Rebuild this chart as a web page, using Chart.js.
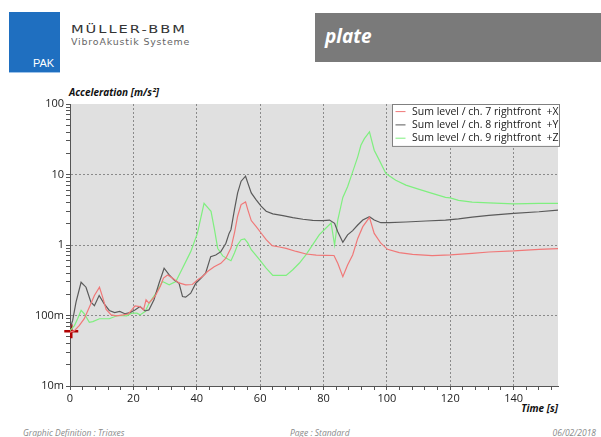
<!DOCTYPE html>
<html>
<head>
<meta charset="utf-8">
<script src="https://cdn.jsdelivr.net/npm/chart.js@4.4.0/dist/chart.umd.min.js"></script>
<style>
body { margin:0; width:601px; height:437px; background:#fff; position:relative; overflow:hidden; font-family:'Open Sans', sans-serif; }
#pakBox { position:absolute; left:9px; top:12px; width:51px; height:60px; background:#1f6fc0; border-bottom:1px solid #9cc2ea; }
#pakBox span { position:absolute; left:24px; bottom:3px; color:#fff; font:11px 'Liberation Sans Narrow', 'Liberation Sans', sans-serif; }
#brand { position:absolute; left:71px; top:23px; font:11px 'DejaVu Sans', sans-serif; letter-spacing:1.5px; color:#333; transform:scaleX(1.33); transform-origin:left top; }
#brandSub { position:absolute; left:71px; top:38px; font:8px 'DejaVu Sans', sans-serif; color:#666; letter-spacing:0.7px; transform:scaleX(1.18); transform-origin:left top; }
#banner { position:absolute; left:315px; top:13px; width:286px; height:49px; background:#7a7a7a; }
#banner span { position:absolute; left:10px; top:10px; color:#fff; font:italic bold 19px 'Open Sans', sans-serif; }
#yTitle { position:absolute; left:69px; top:85px; font:italic bold 10px 'Open Sans', sans-serif; color:#111; }
#xTitle { position:absolute; right:43px; top:401px; font:italic bold 10px 'Open Sans', sans-serif; color:#111; }
.foot { position:absolute; top:427px; font:italic 8.5px 'Open Sans', sans-serif; color:#8a8a8a; }
#graph { position:absolute; left:0; top:0; }
</style>
</head>
<body>
<div id="pakBox"><span>PAK</span></div>
<div id="brand">MÜLLER-BBM</div>
<div id="brandSub">VibroAkustik Systeme</div>
<div id="banner"><span>plate</span></div>
<div id="yTitle">Acceleration [m/s²]</div>
<div id="xTitle">Time [s]</div>
<div class="foot" style="left:23px">Graphic Definition : Triaxes</div>
<div class="foot" style="left:290px">Page : Standard</div>
<div class="foot" style="right:5px">06/02/2018</div>
<canvas id="graph" width="601" height="437"></canvas>
<script>
// values (time in s, acceleration in m/s²)
const seriesNames = ['Sum level / ch. 7 rightfront  +X', 'Sum level / ch. 8 rightfront  +Y', 'Sum level / ch. 9 rightfront  +Z']

const redT = [0, 1.4, 2.9, 4.5, 6.1, 7.7, 9.3, 10.3, 11.4, 13, 14.7, 16.8, 18.4, 19.5, 20.5, 22.1, 23.2, 24, 24.9, 26.9, 28.5, 29.5, 30.8, 32.3, 34.4, 36.5, 38.6, 40.2, 41.8, 43.4, 45.5, 47.6, 49.2, 50.2, 50.8, 51.9, 52.9, 54, 55.4, 56.1, 57.2, 58.7, 60.3, 61.9, 63.8, 66.1, 68.2, 71.4, 74.5, 77.7, 80.8, 83.3, 84.5, 86.1, 87.6, 89.2, 90.8, 92.4, 94.5, 96, 98.1, 100.2, 103.9, 108.1, 114.3, 120, 126.9, 132.2, 140, 148, 154]
const redV = [0.058, 0.061, 0.072, 0.09, 0.131, 0.192, 0.252, 0.182, 0.122, 0.102, 0.099, 0.102, 0.105, 0.12, 0.137, 0.134, 0.12, 0.167, 0.15, 0.19, 0.26, 0.34, 0.376, 0.34, 0.29, 0.272, 0.275, 0.32, 0.356, 0.42, 0.49, 0.55, 0.65, 0.8, 0.906, 1.48, 2.56, 3.74, 4.09, 3.18, 2.22, 1.84, 1.48, 1.19, 0.98, 0.937, 0.897, 0.81, 0.745, 0.72, 0.713, 0.71, 0.55, 0.356, 0.521, 0.722, 1.24, 1.82, 2.46, 1.46, 1.06, 0.868, 0.779, 0.738, 0.707, 0.722, 0.762, 0.796, 0.823, 0.868, 0.888]

const greyT = [0, 0.84, 1.9, 3.5, 5.05, 6.6, 7.7, 9.2, 10.8, 12.4, 14.1, 15.7, 17.3, 18.9, 20.5, 22.1, 23.7, 24.9, 26.5, 28.1, 29.7, 31.3, 32.8, 34.4, 35.5, 36.5, 38.1, 39.7, 41.3, 42.8, 44.4, 46, 47.6, 49.2, 50.2, 50.8, 51.9, 52.9, 54, 55.4, 56.1, 57.2, 58.7, 60.3, 61.9, 64, 67.2, 70.3, 73.5, 76.6, 79.8, 81.9, 83.5, 84.5, 86.1, 87.6, 89.2, 90.8, 92.4, 94.5, 96, 98.1, 100.7, 106, 112.3, 118.5, 122.6, 126.9, 132.2, 140, 148, 154]
const greyV = [0.065, 0.085, 0.155, 0.296, 0.252, 0.155, 0.138, 0.192, 0.146, 0.118, 0.11, 0.114, 0.106, 0.11, 0.12, 0.134, 0.116, 0.12, 0.167, 0.287, 0.468, 0.376, 0.32, 0.287, 0.186, 0.182, 0.207, 0.287, 0.338, 0.397, 0.684, 0.72, 0.805, 1.06, 1.46, 1.65, 3.18, 5.49, 8.04, 9.46, 7.6, 5.49, 4.41, 3.55, 3.01, 2.76, 2.61, 2.45, 2.32, 2.24, 2.22, 2.26, 2.03, 1.54, 1.09, 1.39, 1.6, 1.92, 2.26, 2.52, 2.26, 2.07, 2.07, 2.12, 2.19, 2.26, 2.35, 2.49, 2.63, 2.81, 2.96, 3.13]

const greenT = [0, 1.4, 2.4, 3.5, 4.5, 6.1, 7.2, 9.3, 12.4, 15, 17.9, 19.5, 21.1, 22.1, 23.7, 25, 27.1, 29.2, 31.3, 33.4, 35.5, 38.1, 40.2, 42.3, 44.5, 45.6, 46.6, 48.2, 49.8, 50.8, 51.9, 52.9, 54, 55.1, 56.1, 57.2, 59.8, 61.9, 64, 66.1, 68.2, 70.3, 72.4, 74.5, 76.6, 78.7, 80.8, 82.4, 83.5, 84.5, 86.1, 87.6, 89.2, 90.8, 91.8, 92.9, 94.5, 96, 97.6, 99.7, 102.8, 106, 110.2, 114.3, 118.5, 120, 122.6, 126.9, 132.2, 140, 148, 154]
const greenV = [0.061, 0.072, 0.09, 0.118, 0.106, 0.08, 0.082, 0.09, 0.09, 0.1, 0.099, 0.108, 0.108, 0.102, 0.114, 0.15, 0.207, 0.303, 0.272, 0.303, 0.468, 0.805, 1.46, 3.89, 3.0, 1.65, 0.9, 0.7, 0.632, 0.599, 0.77, 1.01, 1.19, 1.22, 1.07, 0.859, 0.62, 0.47, 0.371, 0.371, 0.371, 0.446, 0.555, 0.73, 1.01, 1.4, 1.74, 2.05, 1.0, 2.26, 4.73, 6.69, 10.9, 17.8, 26, 32.3, 40.2, 22.1, 16, 10.3, 8.31, 7.06, 6.14, 5.39, 4.73, 4.67, 4.29, 4.06, 3.97, 3.84, 3.89, 3.89]

const cursorT = [0.4]
const cursorV = [0.06]

const xTicks = [0, 20, 40, 60, 80, 100, 120, 140]
const yTicks = [0.01, 0.1, 1, 10, 100]
const yTickLabels = ['10m', '100m', '1', '10', '100']

const pairs = (t, v) => t.map((x, i) => ({x: x, y: v[i]}))

// plot background
const plotBg = {
    id: 'plotBg',
    beforeDraw(chart) {
        const a = chart.chartArea
        chart.ctx.save()
        chart.ctx.fillStyle = '#e0e0e0'
        chart.ctx.fillRect(a.left, a.top, a.right - a.left, a.bottom - a.top)
        chart.ctx.restore()
    }
}

// legend box in the upper right corner of the plot
const insideLegend = {
    id: 'insideLegend',
    afterDraw(chart) {
        const ctx = chart.ctx
        const a = chart.chartArea
        const items = chart.data.datasets.filter(d => !d.noLegend)
        const w = 168, rowH = 13.3
        const h = items.length * rowH + 3
        const x = a.right + 2 - w, y = a.top
        ctx.save()
        ctx.fillStyle = '#fff'
        ctx.fillRect(x, y, w, h)
        ctx.strokeStyle = '#808080'
        ctx.lineWidth = 1
        ctx.strokeRect(x + 0.5, y + 0.5, w - 1, h - 1)
        ctx.font = '10.5px "Open Sans"'
        ctx.textBaseline = 'middle'
        items.forEach((d, i) => {
            const cy = y + 7.6 + i * rowH
            ctx.strokeStyle = d.borderColor
            ctx.beginPath()
            ctx.moveTo(x + 3.5, cy)
            ctx.lineTo(x + 13.5, cy)
            ctx.stroke()
            ctx.fillStyle = '#1a1a1a'
            ctx.fillText(d.label, x + 20, cy)
        })
        ctx.restore()
    }
}

new Chart(document.getElementById('graph'), {
    type: 'line',
    data: {
        datasets: [
            { label: seriesNames[0], data: pairs(redT, redV), borderColor: '#f07878', borderWidth: 1.2, pointRadius: 0 },
            { label: seriesNames[1], data: pairs(greyT, greyV), borderColor: '#5a5a5a', borderWidth: 1.2, pointRadius: 0 },
            { label: seriesNames[2], data: pairs(greenT, greenV), borderColor: '#7fef7f', borderWidth: 1.2, pointRadius: 0 },
            { label: 'cursor', noLegend: true, data: pairs(cursorT, cursorV), showLine: false, clip: false,
              pointStyle: 'cross', pointRadius: 7, borderWidth: 2.5, borderColor: '#b00000' }
        ]
    },
    options: {
        responsive: false,
        animation: false,
        layout: { padding: { left: 0, top: 104, right: 43, bottom: 21 } },
        plugins: { legend: { display: false }, tooltip: { enabled: false } },
        scales: {
            x: {
                type: 'linear',
                min: 0,
                max: 154,
                afterBuildTicks: axis => {
                    const t = []
                    for (let v = 0; v <= 154; v += 4) t.push({value: v})
                    axis.ticks = t
                },
                afterFit: axis => { axis.height = 30 },
                ticks: {
                    autoSkip: false, maxRotation: 0, padding: 2,
                    color: '#222', font: { family: 'Open Sans', size: 11 },
                    callback: v => xTicks.includes(v) ? String(v) : ''
                },
                grid: {
                    color: c => c.tick && xTicks.includes(c.tick.value) && c.tick.value > 0 ? '#8a8a8a' : 'rgba(0,0,0,0)',
                    tickColor: '#555',
                    tickLength: 4
                },
                border: { color: '#555', dash: [2, 2] }
            },
            y: {
                type: 'logarithmic',
                min: 0.01,
                max: 100,
                afterBuildTicks: axis => {
                    const t = []
                    yTicks.forEach(d => {
                        for (let m = 1; m <= 9; m++) {
                            const v = +(d * m).toPrecision(3)
                            if (v <= 100) t.push({value: v})
                        }
                    })
                    axis.ticks = t
                },
                afterFit: axis => { axis.width = 70 },
                ticks: {
                    autoSkip: false, padding: 2,
                    color: '#222', font: { family: 'Open Sans', size: 11 },
                    callback: v => {
                        const i = yTicks.findIndex(d => Math.abs(d - v) < d * 1e-6)
                        return i >= 0 ? yTickLabels[i] : ''
                    }
                },
                grid: {
                    color: c => c.tick && yTicks.some(d => Math.abs(d - c.tick.value) < d * 1e-6) && c.tick.value > 0.01 && c.tick.value < 100 ? '#8a8a8a' : 'rgba(0,0,0,0)',
                    tickColor: '#555',
                    tickLength: 4
                },
                border: { color: '#555', dash: [2, 2] }
            }
        }
    },
    plugins: [plotBg, insideLegend]
})
</script>
</body>
</html>
